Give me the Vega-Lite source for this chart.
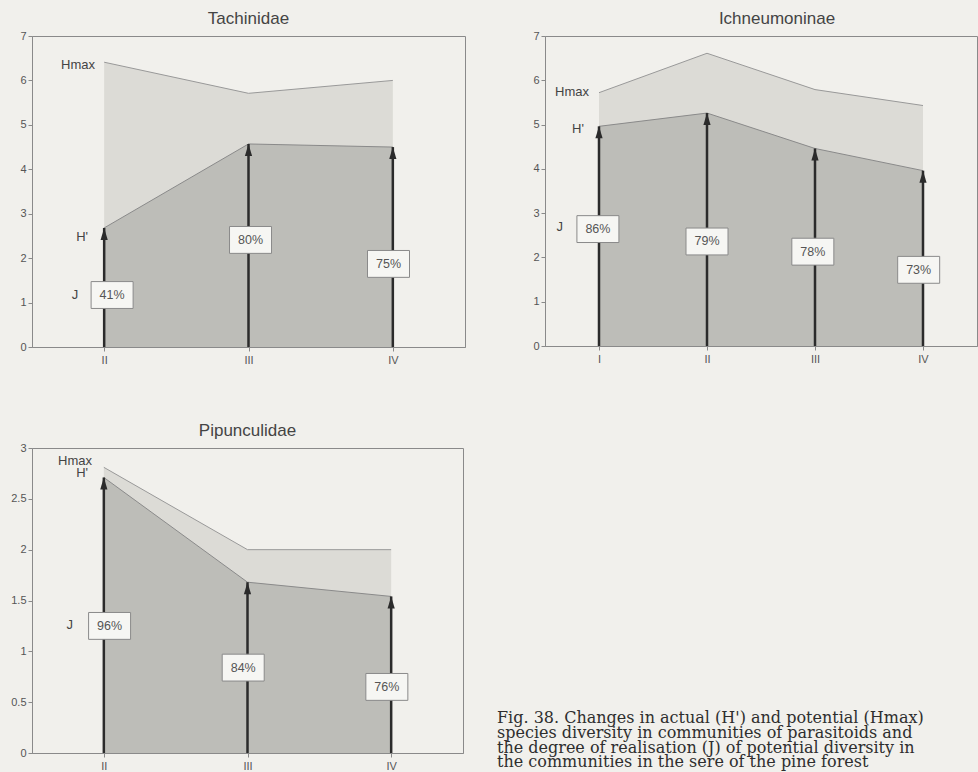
{
  "$schema": "https://vega.github.io/schema/vega-lite/v6.json",
  "background": "#f1f0ec",
  "padding": {"left": 10, "top": 9, "right": 0, "bottom": 0},
  "spacing": 55,
  "config": {
    "numberFormat": "~g",
    "view": {"stroke": "#8a8a8a", "strokeWidth": 1},
    "axis": {"domainColor": "#8a8a8a", "tickColor": "#8a8a8a", "labelColor": "#555555", "labelFont": "Liberation Sans", "labelFontSize": 11, "tickSize": 4, "labelPadding": 2, "grid": false},
    "title": {"font": "Liberation Sans", "fontSize": 17, "fontWeight": "normal", "color": "#444444", "anchor": "middle", "offset": 2}
  },
  "datasets": {
    "tach": [
      {"x": 2, "hmax": 6.41, "h": 2.68, "j": "41%", "lx": 2.055, "ly": 1.17},
      {"x": 3, "hmax": 5.71, "h": 4.57, "j": "80%", "lx": 3.014, "ly": 2.41},
      {"x": 4, "hmax": 6.0, "h": 4.5, "j": "75%", "lx": 3.97, "ly": 1.87}
    ],
    "ichn": [
      {"x": 1, "hmax": 5.72, "h": 4.96, "j": "86%", "lx": 0.99, "ly": 2.64},
      {"x": 2, "hmax": 6.61, "h": 5.26, "j": "79%", "lx": 2.0, "ly": 2.36},
      {"x": 3, "hmax": 5.79, "h": 4.46, "j": "78%", "lx": 2.98, "ly": 2.13},
      {"x": 4, "hmax": 5.43, "h": 3.96, "j": "73%", "lx": 3.96, "ly": 1.72}
    ],
    "pipu": [
      {"x": 2, "hmax": 2.81, "h": 2.71, "j": "96%", "lx": 2.04, "ly": 1.25},
      {"x": 3, "hmax": 2.0, "h": 1.68, "j": "84%", "lx": 2.97, "ly": 0.84},
      {"x": 4, "hmax": 2.0, "h": 1.54, "j": "76%", "lx": 3.97, "ly": 0.65}
    ],
    "notes_tach": [
      {"t": "Hmax", "x": 1.937, "y": 6.35},
      {"t": "H'", "x": 1.888, "y": 2.47},
      {"t": "J", "x": 1.82, "y": 1.17}
    ],
    "notes_ichn": [
      {"t": "Hmax", "x": 0.907, "y": 5.73},
      {"t": "H'", "x": 0.86, "y": 4.9},
      {"t": "J", "x": 0.667, "y": 2.69}
    ],
    "notes_pipu": [
      {"t": "Hmax", "x": 1.918, "y": 2.87},
      {"t": "H'", "x": 1.89, "y": 2.75},
      {"t": "J", "x": 1.785, "y": 1.26}
    ],
    "caption": [
      {"line": 0, "text": "Fig. 38. Changes in actual (H') and potential (Hmax)"},
      {"line": 1, "text": "species diversity in communities of parasitoids and"},
      {"line": 2, "text": "the degree of realisation (J) of potential diversity in"},
      {"line": 3, "text": "the communities in the sere of the pine forest"}
    ]
  },
  "vconcat": [
    {
      "spacing": 66,
      "hconcat": [
        {
          "title": {"text": "Tachinidae"},
          "width": 433, "height": 311,
          "data": {"name": "tach"},
          "layer": [
            {"mark": {"type": "area", "color": "#dcdbd6"},
             "encoding": {
               "x": {"field": "x", "type": "quantitative", "scale": {"domain": [1.5, 4.5], "nice": false}, "axis": {"title": null, "values": [2, 3, 4], "labelExpr": "['','I','II','III','IV'][datum.value]", "labelPadding": 3}},
               "y": {"field": "hmax", "type": "quantitative", "scale": {"domain": [0, 7], "nice": false}, "axis": {"title": null}}}},
            {"mark": {"type": "line", "color": "#999999", "strokeWidth": 1},
             "encoding": {"x": {"field": "x", "type": "quantitative", "axis": {"title": null}}, "y": {"field": "hmax", "type": "quantitative", "axis": {"title": null}}}},
            {"mark": {"type": "area", "color": "#bdbdb8"},
             "encoding": {"x": {"field": "x", "type": "quantitative", "axis": {"title": null}}, "y": {"field": "h", "type": "quantitative", "axis": {"title": null}}}},
            {"mark": {"type": "line", "color": "#8a8a8a", "strokeWidth": 1},
             "encoding": {"x": {"field": "x", "type": "quantitative", "axis": {"title": null}}, "y": {"field": "h", "type": "quantitative", "axis": {"title": null}}}},
            {"mark": {"type": "rule", "color": "#2b2b2b", "strokeWidth": 2.5},
             "encoding": {"x": {"field": "x", "type": "quantitative", "axis": {"title": null}}, "y": {"field": "h", "type": "quantitative", "axis": {"title": null}}, "y2": {"datum": 0}}},
            {"mark": {"type": "point", "shape": "M0,0L0.6,2L-0.6,2Z", "size": 144, "filled": true, "color": "#2b2b2b", "opacity": 1},
             "encoding": {"x": {"field": "x", "type": "quantitative", "axis": {"title": null}}, "y": {"field": "h", "type": "quantitative", "axis": {"title": null}}}},
            {"mark": {"type": "point", "shape": "M-1,-0.64L1,-0.64L1,0.64L-1,0.64Z", "size": 1764, "filled": true, "fill": "#f6f6f3", "stroke": "#8a8a8a", "strokeWidth": 1, "opacity": 1},
             "encoding": {"x": {"field": "lx", "type": "quantitative", "axis": {"title": null}}, "y": {"field": "ly", "type": "quantitative", "axis": {"title": null}}}},
            {"mark": {"type": "text", "font": "Liberation Sans", "fontSize": 12.5, "color": "#555555"},
             "encoding": {"x": {"field": "lx", "type": "quantitative", "axis": {"title": null}}, "y": {"field": "ly", "type": "quantitative", "axis": {"title": null}}, "text": {"field": "j"}}},
            {"data": {"name": "notes_tach"},
             "mark": {"type": "text", "font": "Liberation Sans", "fontSize": 13, "color": "#444444", "align": "right"},
             "encoding": {"x": {"field": "x", "type": "quantitative", "axis": {"title": null}}, "y": {"field": "y", "type": "quantitative", "axis": {"title": null}}, "text": {"field": "t"}}}
          ]
        },
        {
          "title": {"text": "Ichneumoninae", "dx": 16},
          "width": 432, "height": 310,
          "data": {"name": "ichn"},
          "layer": [
            {"mark": {"type": "area", "color": "#dcdbd6"},
             "encoding": {
               "x": {"field": "x", "type": "quantitative", "scale": {"domain": [0.5, 4.5], "nice": false}, "axis": {"title": null, "values": [1, 2, 3, 4], "labelExpr": "['','I','II','III','IV'][datum.value]", "labelPadding": 3}},
               "y": {"field": "hmax", "type": "quantitative", "scale": {"domain": [0, 7], "nice": false}, "axis": {"title": null}}}},
            {"mark": {"type": "line", "color": "#999999", "strokeWidth": 1},
             "encoding": {"x": {"field": "x", "type": "quantitative", "axis": {"title": null}}, "y": {"field": "hmax", "type": "quantitative", "axis": {"title": null}}}},
            {"mark": {"type": "area", "color": "#bdbdb8"},
             "encoding": {"x": {"field": "x", "type": "quantitative", "axis": {"title": null}}, "y": {"field": "h", "type": "quantitative", "axis": {"title": null}}}},
            {"mark": {"type": "line", "color": "#8a8a8a", "strokeWidth": 1},
             "encoding": {"x": {"field": "x", "type": "quantitative", "axis": {"title": null}}, "y": {"field": "h", "type": "quantitative", "axis": {"title": null}}}},
            {"mark": {"type": "rule", "color": "#2b2b2b", "strokeWidth": 2.5},
             "encoding": {"x": {"field": "x", "type": "quantitative", "axis": {"title": null}}, "y": {"field": "h", "type": "quantitative", "axis": {"title": null}}, "y2": {"datum": 0}}},
            {"mark": {"type": "point", "shape": "M0,0L0.6,2L-0.6,2Z", "size": 144, "filled": true, "color": "#2b2b2b", "opacity": 1},
             "encoding": {"x": {"field": "x", "type": "quantitative", "axis": {"title": null}}, "y": {"field": "h", "type": "quantitative", "axis": {"title": null}}}},
            {"mark": {"type": "point", "shape": "M-1,-0.64L1,-0.64L1,0.64L-1,0.64Z", "size": 1764, "filled": true, "fill": "#f6f6f3", "stroke": "#8a8a8a", "strokeWidth": 1, "opacity": 1},
             "encoding": {"x": {"field": "lx", "type": "quantitative", "axis": {"title": null}}, "y": {"field": "ly", "type": "quantitative", "axis": {"title": null}}}},
            {"mark": {"type": "text", "font": "Liberation Sans", "fontSize": 12.5, "color": "#555555"},
             "encoding": {"x": {"field": "lx", "type": "quantitative", "axis": {"title": null}}, "y": {"field": "ly", "type": "quantitative", "axis": {"title": null}}, "text": {"field": "j"}}},
            {"data": {"name": "notes_ichn"},
             "mark": {"type": "text", "font": "Liberation Sans", "fontSize": 13, "color": "#444444", "align": "right"},
             "encoding": {"x": {"field": "x", "type": "quantitative", "axis": {"title": null}}, "y": {"field": "y", "type": "quantitative", "axis": {"title": null}}, "text": {"field": "t"}}}
          ]
        }
      ]
    },
    {
      "spacing": 33,
      "hconcat": [
        {
          "title": {"text": "Pipunculidae"},
          "width": 431, "height": 305,
          "data": {"name": "pipu"},
          "layer": [
            {"mark": {"type": "area", "color": "#dcdbd6"},
             "encoding": {
               "x": {"field": "x", "type": "quantitative", "scale": {"domain": [1.5, 4.5], "nice": false}, "axis": {"title": null, "values": [2, 3, 4], "labelExpr": "['','I','II','III','IV'][datum.value]", "labelPadding": 3}},
               "y": {"field": "hmax", "type": "quantitative", "scale": {"domain": [0, 3], "nice": false}, "axis": {"title": null, "values": [0, 0.5, 1, 1.5, 2, 2.5, 3]}}}},
            {"mark": {"type": "line", "color": "#999999", "strokeWidth": 1},
             "encoding": {"x": {"field": "x", "type": "quantitative", "axis": {"title": null}}, "y": {"field": "hmax", "type": "quantitative", "axis": {"title": null}}}},
            {"mark": {"type": "area", "color": "#bdbdb8"},
             "encoding": {"x": {"field": "x", "type": "quantitative", "axis": {"title": null}}, "y": {"field": "h", "type": "quantitative", "axis": {"title": null}}}},
            {"mark": {"type": "line", "color": "#8a8a8a", "strokeWidth": 1},
             "encoding": {"x": {"field": "x", "type": "quantitative", "axis": {"title": null}}, "y": {"field": "h", "type": "quantitative", "axis": {"title": null}}}},
            {"mark": {"type": "rule", "color": "#2b2b2b", "strokeWidth": 2.5},
             "encoding": {"x": {"field": "x", "type": "quantitative", "axis": {"title": null}}, "y": {"field": "h", "type": "quantitative", "axis": {"title": null}}, "y2": {"datum": 0}}},
            {"mark": {"type": "point", "shape": "M0,0L0.6,2L-0.6,2Z", "size": 144, "filled": true, "color": "#2b2b2b", "opacity": 1},
             "encoding": {"x": {"field": "x", "type": "quantitative", "axis": {"title": null}}, "y": {"field": "h", "type": "quantitative", "axis": {"title": null}}}},
            {"mark": {"type": "point", "shape": "M-1,-0.64L1,-0.64L1,0.64L-1,0.64Z", "size": 1764, "filled": true, "fill": "#f6f6f3", "stroke": "#8a8a8a", "strokeWidth": 1, "opacity": 1},
             "encoding": {"x": {"field": "lx", "type": "quantitative", "axis": {"title": null}}, "y": {"field": "ly", "type": "quantitative", "axis": {"title": null}}}},
            {"mark": {"type": "text", "font": "Liberation Sans", "fontSize": 12.5, "color": "#555555"},
             "encoding": {"x": {"field": "lx", "type": "quantitative", "axis": {"title": null}}, "y": {"field": "ly", "type": "quantitative", "axis": {"title": null}}, "text": {"field": "j"}}},
            {"data": {"name": "notes_pipu"},
             "mark": {"type": "text", "font": "Liberation Sans", "fontSize": 13, "color": "#444444", "align": "right"},
             "encoding": {"x": {"field": "x", "type": "quantitative", "axis": {"title": null}}, "y": {"field": "y", "type": "quantitative", "axis": {"title": null}}, "text": {"field": "t"}}}
          ]
        },
        {
          "width": 440, "height": 305,
          "view": {"stroke": null},
          "data": {"name": "caption"},
          "mark": {"type": "text", "font": "DejaVu Serif", "fontSize": 16, "color": "#2e2e2e", "align": "left", "baseline": "middle", "limit": 480, "ellipsis": ""},
          "encoding": {
            "x": {"datum": 0, "type": "quantitative", "scale": {"domain": [0, 1]}, "axis": null},
            "y": {"field": "line", "type": "quantitative", "scale": {"domain": [-18.24, 2.36], "reverse": true, "nice": false}, "axis": null},
            "text": {"field": "text"}
          }
        }
      ]
    }
  ]
}
